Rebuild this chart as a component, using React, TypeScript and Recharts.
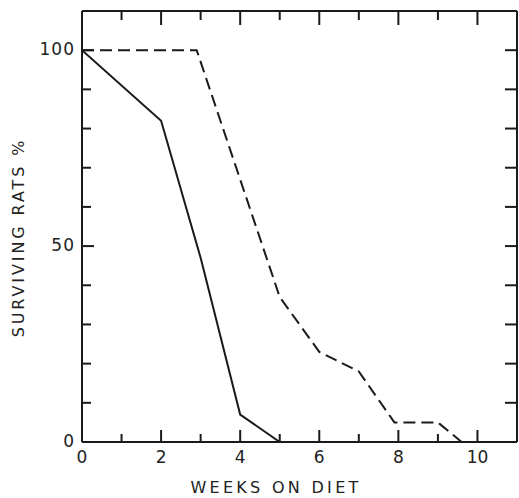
import { Label, Line, LineChart, XAxis, YAxis } from "recharts";

const solidWeeks = [0, 2, 3, 4, 5];
const solidPct = [100, 82, 47, 7, 0];
const dashedWeeks = [0, 2.9, 5, 6, 7, 7.9, 9, 9.6];
const dashedPct = [100, 100, 37, 23, 18, 5, 5, 0];

const weekTicks = [0, 1, 2, 3, 4, 5, 6, 7, 8, 9, 10];
const weekLabels = [0, 2, 4, 6, 8, 10];
const pctTicks = [0, 10, 20, 30, 40, 50, 60, 70, 80, 90, 100];
const pctLabels = [0, 50, 100];

const INK = "#1a1a1a";
const FONT = "'DejaVu Sans', sans-serif";

const solid = solidWeeks.map((x, i) => ({ x, y: solidPct[i] }));
const dashed = dashedWeeks.map((x, i) => ({ x, y: dashedPct[i] }));

function BottomTick({ x, y, payload }: any) {
  const major = weekLabels.includes(payload.value);
  return (
    <g>
      <line x1={x} x2={x} y1={y} y2={y - (major ? 12 : 8)} stroke={INK} strokeWidth={2} />
      {major && (
        <text x={x} y={y + 16} textAnchor="middle" dominantBaseline="middle" fontSize={17} fontFamily={FONT} fill="#222">
          {payload.value}
        </text>
      )}
    </g>
  );
}

function TopTick({ x, y, payload }: any) {
  const major = weekLabels.includes(payload.value);
  return <line x1={x} x2={x} y1={y} y2={y + (major ? 14 : 9)} stroke={INK} strokeWidth={2} />;
}

function LeftTick({ x, y, payload }: any) {
  const major = pctLabels.includes(payload.value);
  return (
    <g>
      <line x1={x} x2={x + (major ? 12 : 9)} y1={y} y2={y} stroke={INK} strokeWidth={2} />
      {major && (
        <text x={x - 7} y={y} textAnchor="end" dominantBaseline="middle" fontSize={17} fontFamily={FONT} fill="#222" letterSpacing={1}>
          {payload.value}
        </text>
      )}
    </g>
  );
}

function RightTick({ x, y }: any) {
  return <line x1={x} x2={x - 12} y1={y} y2={y} stroke={INK} strokeWidth={2} />;
}

export default function App() {
  return (
    <div style={{ position: "absolute", left: 0, top: 0, background: "#fff" }}>
      <LineChart width={519} height={498} margin={{ top: 10, right: 1, bottom: 0, left: 0 }}>
        <XAxis
          xAxisId="bottom"
          orientation="bottom"
          type="number"
          dataKey="x"
          domain={[0, 11]}
          ticks={weekTicks}
          interval={0}
          height={56}
          tickSize={0}
          tickMargin={0}
          tickLine={false}
          axisLine={{ stroke: INK, strokeWidth: 2 }}
          tick={<BottomTick />}
          allowDataOverflow
        >
          <Label
            content={({ viewBox }: any) => (
              <text
                x={viewBox.x + 194}
                y={488}
                textAnchor="middle"
                dominantBaseline="middle"
                fontSize={16}
                fontFamily={FONT}
                fill="#222"
                letterSpacing={3.3}
              >
                WEEKS ON DIET
              </text>
            )}
          />
        </XAxis>
        <XAxis
          xAxisId="top"
          orientation="top"
          type="number"
          dataKey="x"
          domain={[0, 11]}
          ticks={weekTicks}
          interval={0}
          height={1}
          tickSize={0}
          tickMargin={0}
          tickLine={false}
          axisLine={{ stroke: INK, strokeWidth: 2 }}
          tick={<TopTick />}
          allowDataOverflow
        />
        <YAxis
          yAxisId="left"
          orientation="left"
          type="number"
          domain={[0, 110]}
          ticks={pctTicks}
          interval={0}
          width={82}
          tickSize={0}
          tickMargin={0}
          tickLine={false}
          axisLine={{ stroke: INK, strokeWidth: 2 }}
          tick={<LeftTick />}
          allowDataOverflow
        >
          <Label
            content={({ viewBox }: any) => {
              const cx = 19;
              const cy = viewBox.y + viewBox.height / 2 + 11;
              return (
                <text
                  x={cx}
                  y={cy}
                  transform={`rotate(-90 ${cx} ${cy})`}
                  textAnchor="middle"
                  dominantBaseline="middle"
                  fontSize={16}
                  fontFamily={FONT}
                  fill="#222"
                  letterSpacing={2.9}
                >
                  SURVIVING RATS %
                </text>
              );
            }}
          />
        </YAxis>
        <YAxis
          yAxisId="right"
          orientation="right"
          type="number"
          domain={[0, 110]}
          ticks={pctTicks}
          interval={0}
          width={1}
          tickSize={0}
          tickMargin={0}
          tickLine={false}
          axisLine={{ stroke: INK, strokeWidth: 2 }}
          tick={<RightTick />}
          allowDataOverflow
        />
        {/* invisible series so the top and right frame axes get drawn */}
        <Line
          xAxisId="top"
          yAxisId="right"
          data={solid}
          dataKey="y"
          stroke="none"
          dot={false}
          activeDot={false}
          legendType="none"
          isAnimationActive={false}
        />
        <Line
          xAxisId="bottom"
          yAxisId="left"
          data={solid}
          dataKey="y"
          type="linear"
          stroke={INK}
          strokeWidth={2}
          dot={false}
          isAnimationActive={false}
        />
        <Line
          xAxisId="bottom"
          yAxisId="left"
          data={dashed}
          dataKey="y"
          type="linear"
          stroke={INK}
          strokeWidth={2}
          strokeDasharray="12 6"
          dot={false}
          isAnimationActive={false}
        />
      </LineChart>
    </div>
  );
}
